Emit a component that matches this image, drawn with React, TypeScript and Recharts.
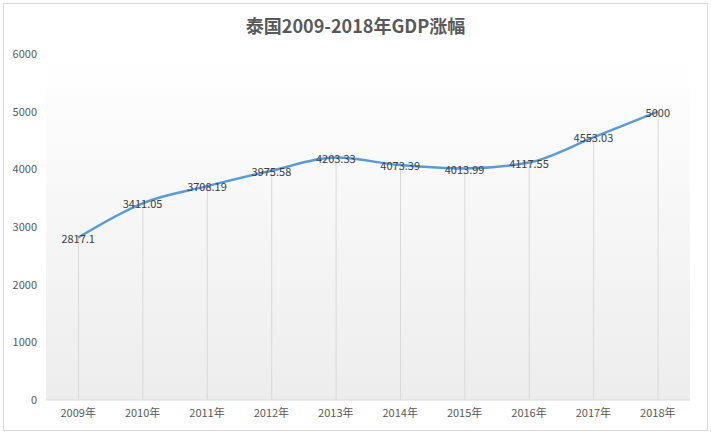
import React from "react";
import {
  ComposedChart,
  Line,
  Bar,
  XAxis,
  YAxis,
  ReferenceArea,
  LabelList,
} from "recharts";

const years = ["2009年", "2010年", "2011年", "2012年", "2013年", "2014年", "2015年", "2016年", "2017年", "2018年"];
const gdp = [2817.1, 3411.05, 3708.19, 3975.58, 4203.33, 4073.39, 4013.99, 4117.55, 4553.03, 5000];
const yTicks = [0, 1000, 2000, 3000, 4000, 5000, 6000];

const data = years.map((year, i) => ({ year, gdp: gdp[i] }));

const FONT = '"Noto Sans CJK SC", "Noto Sans", sans-serif';

const PointLabel = (props: any) => {
  const { x, y, value } = props;
  return (
    <text
      x={x}
      y={y}
      textAnchor="middle"
      dominantBaseline="central"
      fontSize={11}
      fill="#404040"
      fontFamily={FONT}
    >
      {value}
    </text>
  );
};

export default function App() {
  return (
    <div style={{ position: "absolute", left: 0, top: 0, width: 711, height: 435, background: "#fff", fontFamily: FONT }}>
      <div
        style={{
          position: "absolute",
          left: 3,
          top: 3,
          width: 703,
          height: 426,
          border: "1px solid #d9d9d9",
        }}
      />
      <div
        style={{
          position: "absolute",
          left: 0,
          top: 12,
          width: 711,
          textAlign: "center",
          fontSize: 18,
          fontWeight: "bold",
          color: "#595959",
        }}
      >
        泰国2009-2018年GDP涨幅
      </div>
      <div style={{ position: "absolute", left: 0, top: 0 }}>
        <ComposedChart
          width={711}
          height={435}
          data={data}
          margin={{ top: 54, right: 21, bottom: 0, left: 0 }}
        >
          <defs>
            <linearGradient id="plotBg" x1="0" y1="0" x2="0" y2="1">
              <stop offset="0%" stopColor="#ffffff" />
              <stop offset="100%" stopColor="#ededed" />
            </linearGradient>
          </defs>
          <XAxis
            dataKey="year"
            height={35}
            tickSize={0}
            tickMargin={9}
            axisLine={{ stroke: "#d9d9d9" }}
            tick={{ fontSize: 11, fill: "#595959", fontFamily: FONT }}
            interval={0}
          />
          <YAxis
            width={46}
            domain={[0, 6000]}
            ticks={yTicks}
            tickSize={0}
            tickMargin={9}
            axisLine={false}
            tick={{ fontSize: 11, fill: "#595959", fontFamily: FONT }}
          />
          <ReferenceArea y1={0} y2={6000} fill="url(#plotBg)" fillOpacity={1} stroke="none" ifOverflow="visible" />
          <Bar dataKey="gdp" barSize={1} fill="#d9d9d9" isAnimationActive={false} />
          <Line
            type="monotone"
            dataKey="gdp"
            stroke="#5b9bd5"
            strokeWidth={2.5}
            dot={false}
            activeDot={false}
            isAnimationActive={false}
          >
            <LabelList dataKey="gdp" content={PointLabel} />
          </Line>
        </ComposedChart>
      </div>
    </div>
  );
}
